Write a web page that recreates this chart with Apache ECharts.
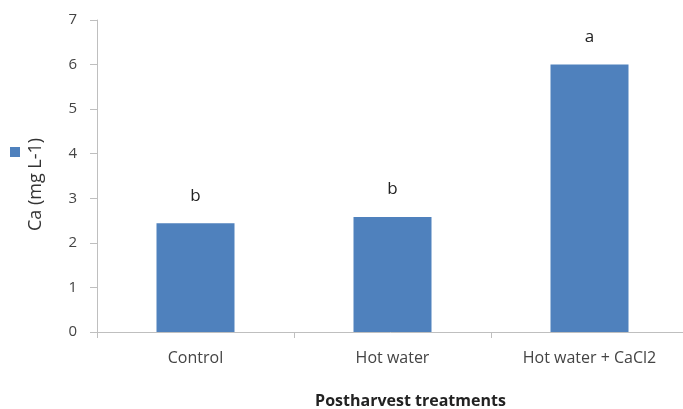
<!DOCTYPE html>
<html><head><meta charset="utf-8">
<script src="https://cdn.jsdelivr.net/npm/echarts@6/dist/echarts.min.js"></script>
<style>html,body{margin:0;padding:0;background:#fff}#c{width:683px;height:409px}</style>
</head><body><div id="c"></div>
<script>
const categories = ['Control', 'Hot water', 'Hot water + CaCl2'];
const caValues = [2.44, 2.58, 6.0];
const letters = ['b', 'b', 'a'];
const yTicks = [0, 1, 2, 3, 4, 5, 6, 7];

const chart = echarts.init(document.getElementById('c'));
const font = '"Open Sans", sans-serif';
chart.setOption({
  animation: false,
  textStyle: { fontFamily: font },
  legend: {
    left: 10, top: 147, padding: 0, orient: 'vertical', icon: 'rect', itemWidth: 10, itemHeight: 10,
    data: [' '], textStyle: { fontSize: 1 }
  },
  grid: { left: 97, top: 20, width: 591, height: 312, containLabel: false, outerBoundsMode: 'none' },
  xAxis: {
    type: 'category', data: categories,
    name: 'Postharvest treatments', nameLocation: 'middle', nameGap: 61,
    nameTextStyle: { fontFamily: font, fontWeight: 'bold', fontSize: 16, color: '#222', padding: [0, 0, 0, 36] },
    axisLine: { lineStyle: { color: '#bfbfbf' } },
    axisTick: { show: true, length: 6, lineStyle: { color: '#bfbfbf' } },
    axisLabel: { fontSize: 16, color: '#444', margin: 18 }
  },
  yAxis: {
    type: 'value', min: yTicks[0], max: yTicks[yTicks.length - 1], interval: 1,
    name: 'Ca (mg L-1)', nameLocation: 'middle', nameGap: 52,
    nameTextStyle: { fontSize: 18, color: '#333', padding: [0, 17, 0, 0] },
    axisLine: { show: true, lineStyle: { color: '#bfbfbf' } },
    axisTick: { show: true, length: 7, lineStyle: { color: '#bfbfbf' } },
    splitLine: { show: false },
    axisLabel: { fontSize: 15, color: '#444', margin: 20 }
  },
  series: [{
    name: ' ', type: 'bar', data: caValues, barWidth: 78,
    itemStyle: { color: '#4f81bd' },
    label: {
      show: true, position: 'top', distance: 19, fontSize: 17, color: '#222',
      formatter: p => letters[p.dataIndex]
    }
  }]
});
</script></body></html>
